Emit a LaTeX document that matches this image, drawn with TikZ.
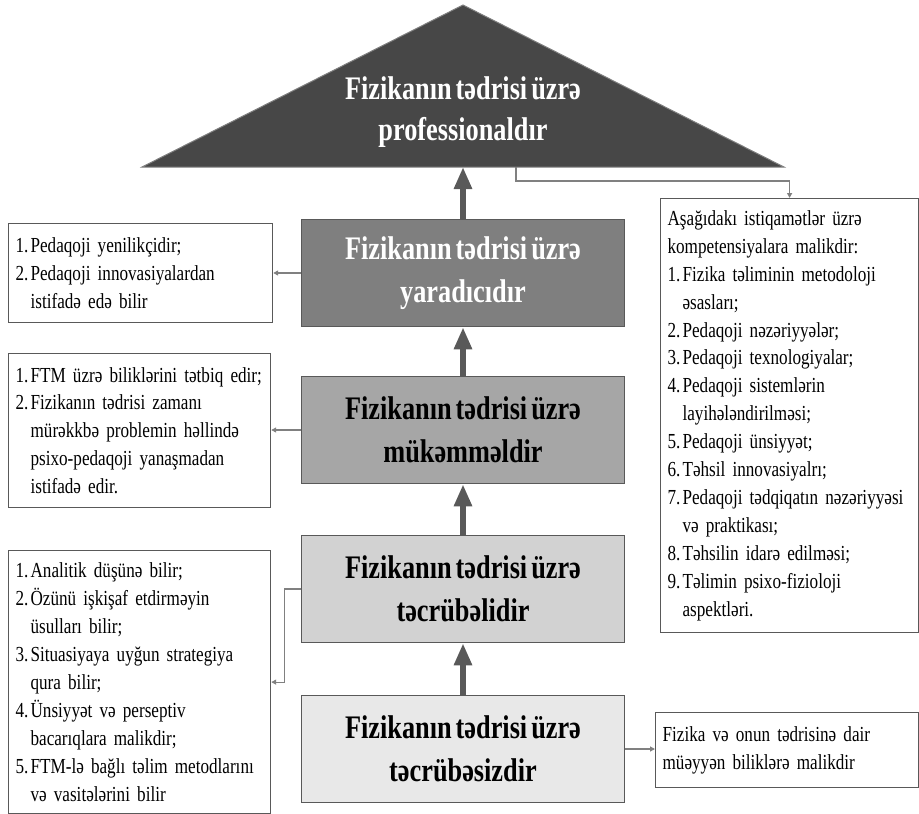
\documentclass[tikz,border=0pt]{standalone}
\usepackage{fontspec}
\setmainfont{Liberation Serif}[FakeStretch=0.8,WordSpace=0.6]
\usetikzlibrary{arrows.meta}
\definecolor{topgray}{RGB}{71,71,71}
\definecolor{edgegray}{RGB}{89,89,89}
\definecolor{levA}{RGB}{127,127,127}
\definecolor{levB}{RGB}{166,166,166}
\definecolor{levC}{RGB}{210,210,210}
\definecolor{levD}{RGB}{232,232,232}
\newcommand{\nr}[1]{\makebox[15bp][l]{#1}}
\newcommand{\ind}{\hspace*{15bp}}
\newcommand{\notefont}{\fontsize{21.5}{28}\selectfont\spaceskip 4.2bp plus 1bp minus 1bp\relax}
\tikzset{
 level/.style={draw=edgegray,line width=1.5bp,minimum width=323bp,minimum height=107bp,
   inner sep=0pt,align=center,font=\fontsize{33}{43}\selectfont\bfseries},
 note/.style={draw=edgegray,line width=1.2bp,anchor=north west,inner xsep=7bp,inner ysep=0pt,
   align=left,font=\notefont},
 rise/.style={edgegray,line width=6bp,-{Triangle[width=17bp,length=22bp]}},
 link/.style={gray,line width=1.2bp,-{Triangle[width=5bp,length=5bp]}}
}
\begin{document}
\begin{tikzpicture}[x=1bp,y=-1bp]
 \useasboundingbox (0,0) rectangle (919,814);
 % top of the pyramid
 \coordinate (apex) at (463,5);
 \coordinate (baseL) at (142,167);
 \coordinate (baseR) at (784,167);
 \coordinate (base) at (463,167);
 \coordinate (tipR) at (516,167);
 \filldraw[fill=topgray,draw=gray,line width=1bp] (apex) -- (baseR) -- (baseL) -- cycle;
 \node[align=center,text=white,font=\fontsize{33}{41}\selectfont\bfseries] (toptitle) at (463,112)
  {Fizikanın tədrisi üzrə\\professionaldır};
 % levels
 \node[level,fill=levA,text=white] (yaradici) at (463,273) {Fizikanın tədrisi üzrə\\yaradıcıdır};
 \node[level,fill=levB] (mukemmel) at (463,430) {Fizikanın tədrisi üzrə\\mükəmməldir};
 \node[level,fill=levC] (tecrubeli) at (463,589) {Fizikanın tədrisi üzrə\\təcrübəlidir};
 \node[level,fill=levD] (tecrubesiz) at (463,749) {Fizikanın tədrisi üzrə\\təcrübəsizdir};
 % notes
 \node[note,text width=250bp,minimum height=99bp] (noteA) at (8,223)
  {\nr{1.}Pedaqoji yenilikçidir;\\
   \nr{2.}Pedaqoji innovasiyalardan\\
   \ind istifadə edə bilir};
 \node[note,text width=248bp,minimum height=154bp] (noteB) at (8,353)
  {\nr{1.}FTM üzrə biliklərini tətbiq edir;\\
   \nr{2.}Fizikanın tədrisi zamanı\\
   \ind mürəkkbə problemin həllində\\
   \ind psixo-pedaqoji yanaşmadan\\
   \ind istifadə edir.};
 \node[note,text width=248bp,minimum height=263bp] (noteC) at (8,550)
  {\nr{1.}Analitik düşünə bilir;\\
   \nr{2.}Özünü işkişaf etdirməyin\\
   \ind üsulları bilir;\\
   \nr{3.}Situasiyaya uyğun strategiya\\
   \ind qura bilir;\\
   \nr{4.}Ünsiyyət və perseptiv\\
   \ind bacarıqlara malikdir;\\
   \nr{5.}FTM-lə bağlı təlim metodlarını\\
   \ind və vasitələrini bilir};
 \node[note,text width=244bp,minimum height=434bp] (noteD) at (660,198)
  {Aşağıdakı istiqamətlər üzrə\\
   kompetensiyalara malikdir:\\
   \nr{1.}Fizika təliminin metodoloji\\
   \ind əsasları;\\
   \nr{2.}Pedaqoji nəzəriyyələr;\\
   \nr{3.}Pedaqoji texnologiyalar;\\
   \nr{4.}Pedaqoji sistemlərin\\
   \ind layihələndirilməsi;\\
   \nr{5.}Pedaqoji ünsiyyət;\\
   \nr{6.}Təhsil innovasiyalrı;\\
   \nr{7.}Pedaqoji tədqiqatın nəzəriyyəsi\\
   \ind və praktikası;\\
   \nr{8.}Təhsilin idarə edilməsi;\\
   \nr{9.}Təlimin psixo-fizioloji\\
   \ind aspektləri.};
 \node[note,text width=249bp,minimum height=75bp] (noteE) at (655,712)
  {Fizika və onun tədrisinə dair\\
   müəyyən biliklərə malikdir};
 % thick arrows
 \draw[rise] (tecrubesiz.north) -- (tecrubeli.south);
 \draw[rise] (tecrubeli.north) -- (mukemmel.south);
 \draw[rise] (mukemmel.north) -- (yaradici.south);
 \draw[rise] (yaradici.north) -- (base);
 % thin arrows
 \draw[link] (tipR) -- ++(0,14) -| (noteD.north);
 \draw[link] (yaradici.west) -- (yaradici.west -| noteA.east);
 \draw[link] (mukemmel.west) -- (mukemmel.west -| noteB.east);
 \draw[link] (tecrubeli.west) -- ++(-16,0) |- (noteC.east);
 \draw[link] (tecrubesiz.east) -- (tecrubesiz.east -| noteE.west);
\end{tikzpicture}
\end{document}
